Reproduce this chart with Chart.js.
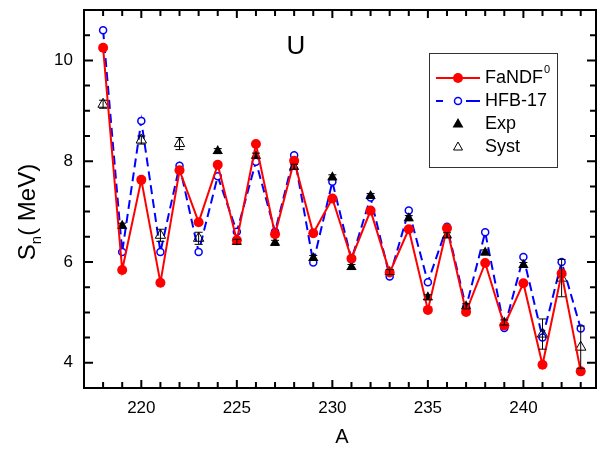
<!DOCTYPE html>
<html>
<head>
<meta charset="utf-8">
<script src="https://cdn.jsdelivr.net/npm/chart.js@4.4.0/dist/chart.umd.min.js"></script>
<style>
html,body{margin:0;padding:0;background:#fff;}
#caja{position:relative;width:605px;height:453px;}
</style>
</head>
<body>
<div id="caja"><canvas id="grafica"></canvas></div>
<script>
// Masas (eje X) y energias de separacion de neutrones Sn (MeV)
const masas = [218,219,220,221,222,223,224,225,226,227,228,229,230,231,232,233,234,235,236,237,238,239,240,241,242,243];
const fandf = [10.25,5.84,7.63,5.59,7.82,6.79,7.93,6.43,8.34,6.55,8.01,6.57,7.26,6.07,7.02,5.79,6.65,5.05,6.67,5.01,5.98,4.74,5.58,3.96,5.77,3.83];
const hfb17 = [10.60,6.20,8.80,6.20,7.91,6.20,7.70,6.60,7.99,6.60,8.12,5.99,7.59,6.05,7.28,5.71,7.02,5.60,6.70,5.10,6.59,4.69,6.10,4.50,6.00,4.68];
// Experimentales
const expA = [219,224,225,226,227,228,229,230,231,232,233,234,235,236,237,238,239,240];
const expSn = [6.72,8.20,6.40,8.11,6.38,7.89,6.08,7.68,5.90,7.31,5.80,6.87,5.30,6.53,5.12,6.19,4.80,5.94];
const expErr = [0.05,0.05,0.05,0.05,0.05,0.05,0.05,0.05,0.05,0.05,0.05,0.05,0.05,0.05,0.05,0.05,0.05,0.05];
// Sistematica
const systA = [218,220,221,222,223,241,242,243];
const systSn = [9.13,8.42,6.53,8.35,6.47,4.57,5.68,4.31];
const systErr = [0.08,0.08,0.12,0.12,0.12,0.30,0.37,0.42];
// Ticks
const ticksX = [220,225,230,235,240];
const ticksY = [4,6,8,10];

const $grafica = document.querySelector("#grafica");
const ctx = $grafica.getContext("2d");

const puntos = (xs, ys) => xs.map((x, i) => ({ x: x, y: ys[i] }));

// barras de error dibujadas con las escalas de la grafica
const barrasError = {
  id: "barrasError",
  afterDatasetsDraw(chart) {
    const { ctx, scales: { x, y } } = chart;
    ctx.save();
    ctx.strokeStyle = "#000";
    ctx.lineWidth = 1;
    const dibujar = (xs, ys, es) => {
      xs.forEach((a, i) => {
        const px = x.getPixelForValue(a);
        const y1 = y.getPixelForValue(ys[i] + es[i]);
        const y2 = y.getPixelForValue(ys[i] - es[i]);
        ctx.beginPath();
        ctx.moveTo(px, y1); ctx.lineTo(px, y2);
        ctx.moveTo(px - 4, y1); ctx.lineTo(px + 4, y1);
        ctx.moveTo(px - 4, y2); ctx.lineTo(px + 4, y2);
        ctx.stroke();
      });
    };
    dibujar(expA, expSn, expErr);
    dibujar(systA, systSn, systErr);
    ctx.restore();
  }
};

// marco, ticks hacia dentro, titulos y leyenda
const marco = {
  id: "marco",
  afterDraw(chart) {
    const { ctx, chartArea: ca, scales: { x, y } } = chart;
    ctx.save();
    ctx.strokeStyle = "#000";
    ctx.lineWidth = 2;
    ctx.strokeRect(ca.left, ca.top, ca.right - ca.left, ca.bottom - ca.top);
    ctx.beginPath();
    for (let a = 218; a <= 243; a++) {
      const px = x.getPixelForValue(a);
      const len = a % 5 === 0 ? 8 : 6;
      ctx.moveTo(px, ca.bottom); ctx.lineTo(px, ca.bottom - len);
      ctx.moveTo(px, ca.top); ctx.lineTo(px, ca.top + len);
    }
    for (let v = 3.5; v <= 11; v += 0.5) {
      const py = y.getPixelForValue(v);
      const len = v % 2 === 0 ? 9 : 6;
      ctx.moveTo(ca.left, py); ctx.lineTo(ca.left + len, py);
      ctx.moveTo(ca.right, py); ctx.lineTo(ca.right - len, py);
    }
    ctx.stroke();

    ctx.fillStyle = "#000";
    ctx.textBaseline = "middle";
    // titulo eje X
    ctx.font = "20px Arial";
    ctx.textAlign = "center";
    ctx.fillText("A", 342, 437);
    // etiqueta U
    ctx.font = "26px Arial";
    ctx.fillText("U", 296, 47);
    // titulo eje Y con subindice
    ctx.save();
    ctx.translate(35, 212);
    ctx.rotate(-Math.PI / 2);
    ctx.textAlign = "left";
    ctx.textBaseline = "alphabetic";
    ctx.font = "24px Arial";
    const wS = ctx.measureText("S").width;
    ctx.font = "15px Arial";
    const wn = ctx.measureText("n").width;
    ctx.font = "24px Arial";
    const wr = ctx.measureText("( MeV)").width;
    let x0 = -(wS + wn + wr) / 2;
    ctx.fillText("S", x0, 0);
    ctx.font = "15px Arial";
    ctx.fillText("n", x0 + wS, 6);
    ctx.font = "24px Arial";
    ctx.fillText("( MeV)", x0 + wS + wn, 0);
    ctx.restore();

    // leyenda
    ctx.lineWidth = 1;
    ctx.strokeStyle = "#333";
    ctx.strokeRect(429.5, 53.5, 128, 114);
    const filas = [78, 101, 124, 147];
    ctx.lineWidth = 2;
    ctx.strokeStyle = "#ff0000";
    ctx.beginPath(); ctx.moveTo(436, filas[0]); ctx.lineTo(480, filas[0]); ctx.stroke();
    ctx.fillStyle = "#ff0000";
    ctx.beginPath(); ctx.arc(458, filas[0], 5, 0, Math.PI * 2); ctx.fill();
    ctx.strokeStyle = "#0000ff";
    ctx.lineWidth = 2;
    ctx.beginPath(); ctx.moveTo(436, filas[1]); ctx.lineTo(443, filas[1]);
    ctx.moveTo(466, filas[1]); ctx.lineTo(480, filas[1]); ctx.stroke();
    ctx.lineWidth = 1.5;
    ctx.beginPath(); ctx.arc(458, filas[1], 3.5, 0, Math.PI * 2); ctx.stroke();
    ctx.fillStyle = "#000";
    ctx.strokeStyle = "#000";
    ctx.lineWidth = 1;
    const tri = (cx, cy, r, lleno) => {
      ctx.beginPath();
      ctx.moveTo(cx, cy - r); ctx.lineTo(cx + r * 0.9, cy + r * 0.6); ctx.lineTo(cx - r * 0.9, cy + r * 0.6);
      ctx.closePath();
      lleno ? ctx.fill() : ctx.stroke();
    };
    tri(458, filas[2], 6, true);
    tri(458, filas[3], 5, false);
    ctx.font = "18px Arial";
    ctx.textAlign = "left";
    ctx.textBaseline = "middle";
    ctx.fillText("FaNDF", 485, filas[0]);
    const wF = ctx.measureText("FaNDF").width;
    ctx.font = "11px Arial";
    ctx.fillText("0", 485 + wF + 1, filas[0] - 8);
    ctx.font = "18px Arial";
    ctx.fillText("HFB-17", 485, filas[1]);
    ctx.fillText("Exp", 485, filas[2]);
    ctx.fillText("Syst", 485, filas[3]);
    ctx.restore();
  }
};

new Chart($grafica, {
  type: "scatter",
  data: {
    datasets: [
      {
        label: "FaNDF0",
        data: puntos(masas, fandf),
        showLine: true,
        borderColor: "#ff0000",
        backgroundColor: "#ff0000",
        borderWidth: 2,
        pointRadius: 5,
        pointBorderWidth: 0,
        order: 1
      },
      {
        label: "HFB-17",
        data: puntos(masas, hfb17),
        showLine: true,
        borderColor: "#0000ff",
        backgroundColor: "#ffffff",
        borderWidth: 2,
        borderDash: [9, 5],
        pointRadius: 3.5,
        pointBorderWidth: 1.5,
        order: 4
      },
      {
        label: "Exp",
        data: puntos(expA, expSn),
        pointStyle: "triangle",
        backgroundColor: "#000",
        borderColor: "#000",
        pointRadius: 6,
        pointBorderWidth: 0,
        order: 3
      },
      {
        label: "Syst",
        data: puntos(systA, systSn),
        pointStyle: "triangle",
        backgroundColor: "rgba(255,255,255,0)",
        borderColor: "#000",
        pointRadius: 6,
        pointBorderWidth: 1,
        order: 2
      }
    ]
  },
  options: {
    responsive: true,
    maintainAspectRatio: false,
    animation: false,
    layout: { padding: { top: 10, right: 9, left: 0, bottom: 0 } },
    plugins: { legend: { display: false }, tooltip: { enabled: false } },
    scales: {
      x: {
        type: "linear",
        min: 217,
        max: 243.8,
        grid: { display: false, drawTicks: false },
        border: { display: false },
        afterBuildTicks: s => { s.ticks = ticksX.map(v => ({ value: v })); },
        afterFit: s => { s.height = 65; s.paddingLeft = 0; s.paddingRight = 0; },
        ticks: { font: { family: "Arial", size: 17 }, color: "#000", padding: 10, maxRotation: 0 }
      },
      y: {
        min: 3.5,
        max: 11,
        grid: { display: false, drawTicks: false },
        border: { display: false },
        afterBuildTicks: s => { s.ticks = ticksY.map(v => ({ value: v })); },
        afterFit: s => { s.width = 84; s.paddingTop = 0; s.paddingBottom = 0; },
        ticks: { font: { family: "Arial", size: 17 }, color: "#000", padding: 11 }
      }
    }
  },
  plugins: [barrasError, marco]
});
</script>
</body>
</html>
